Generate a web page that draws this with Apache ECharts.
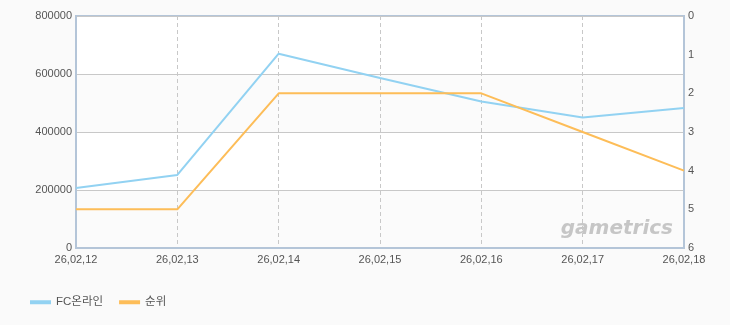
<!DOCTYPE html>
<html><head><meta charset="utf-8">
<script src="https://cdn.jsdelivr.net/npm/echarts@6/dist/echarts.min.js"></script>
<style>html,body{margin:0;padding:0;background:#fafafa}#c{width:730px;height:325px}</style>
</head><body><div id="c"></div>
<script>
const categories = ['26,02,12','26,02,13','26,02,14','26,02,15','26,02,16','26,02,17','26,02,18'];
const fcOnline = [207000, 252000, 670000, 586000, 505000, 450000, 483000];
const rank = [5, 5, 2, 2, 2, 3, 4];
const leftTicks = [0, 200000, 400000, 600000, 800000];

const chart = echarts.init(document.getElementById('c'));
const font = 'Arial, "Noto Sans CJK KR", sans-serif';
chart.setOption({
  backgroundColor: '#fafafa',
  animation: false,
  textStyle: { fontFamily: font },
  grid: { left: 76, right: 46, top: 16, bottom: 77, show: true, backgroundColor: '#ffffff', borderColor: '#b4c5d8', borderWidth: 2 },
  legend: {
    left: 25, bottom: 12, itemWidth: 21, itemHeight: 4, itemGap: 16,
    icon: 'rect',
    textStyle: { color: '#555', fontSize: 11.5, fontFamily: font },
    data: ['FC온라인', '순위']
  },
  xAxis: {
    type: 'category', data: categories, boundaryGap: false,
    axisLine: { lineStyle: { color: '#b4c5d8', width: 2 } },
    axisTick: { show: false },
    axisLabel: { color: '#555', fontSize: 11, margin: 6 },
    splitLine: { show: true, lineStyle: { color: '#c8c8c8', type: [4, 3] } }
  },
  yAxis: [
    {
      type: 'value', min: leftTicks[0], max: leftTicks[leftTicks.length - 1], interval: 200000,
      axisLine: { show: true, lineStyle: { color: '#b4c5d8', width: 2 } },
      axisTick: { show: false },
      axisLabel: { color: '#555', fontSize: 11, margin: 4, formatter: v => String(v) },
      splitLine: { show: true, lineStyle: { color: '#c8c8c8' } },
      splitArea: { show: true, areaStyle: { color: ['#fbfbfb', '#ffffff'] } }
    },
    {
      type: 'value', min: 0, max: 6, interval: 1, inverse: true, position: 'right',
      axisLine: { show: true, lineStyle: { color: '#b4c5d8', width: 2 } },
      axisTick: { show: false },
      axisLabel: { color: '#555', fontSize: 11, margin: 4 },
      splitLine: { show: false }
    }
  ],
  graphic: [{
    type: 'text', z: 100, silent: true, x: 673, y: 239,
    style: { text: 'gametrics', fill: '#c6c6c6', align: 'right', verticalAlign: 'bottom',
             font: 'italic bold 20px "DejaVu Sans", Verdana, sans-serif' }
  }],
  series: [
    { name: 'FC온라인', type: 'line', data: fcOnline, yAxisIndex: 0, showSymbol: false, symbol: 'none',
      lineStyle: { color: '#92d2f2', width: 2 }, itemStyle: { color: '#92d2f2' } },
    { name: '순위', type: 'line', data: rank, yAxisIndex: 1, showSymbol: false, symbol: 'none',
      lineStyle: { color: '#fdbd58', width: 2 }, itemStyle: { color: '#fdbd58' } }
  ]
});
</script></body></html>
